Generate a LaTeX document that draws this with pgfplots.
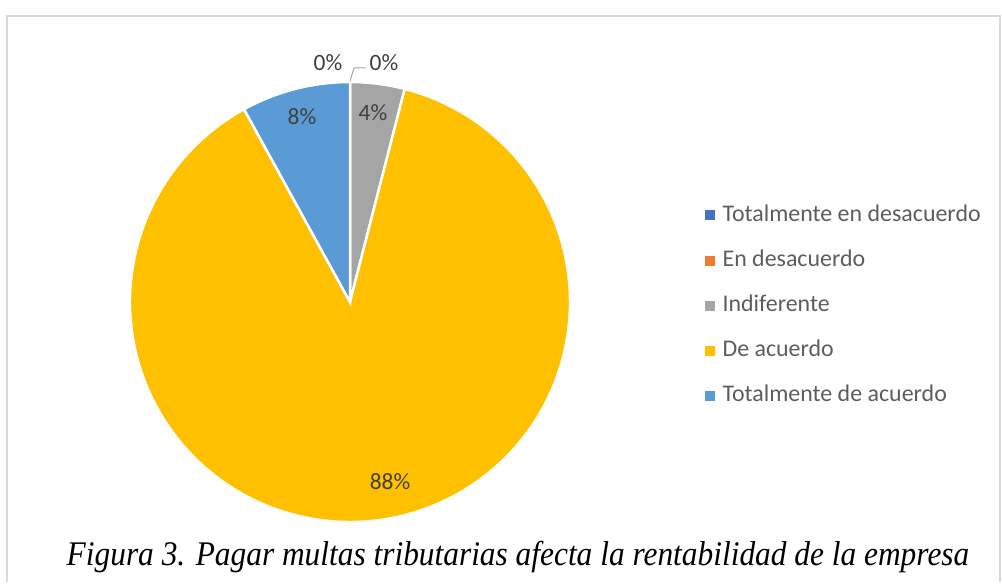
\documentclass[border=0pt]{standalone}
\usepackage{pgfplots}
\pgfplotsset{compat=1.18}
\usepackage{pgfplotstable}
\usepackage{fontspec}
\setmainfont{Carlito}
\newfontfamily\capfont{Liberation Serif}

\definecolor{cTD}{HTML}{4472C4}
\definecolor{cED}{HTML}{ED7D31}
\definecolor{cIN}{HTML}{A5A5A5}
\definecolor{cDA}{HTML}{FFC000}
\definecolor{cTA}{HTML}{5B9BD5}
\definecolor{lbl}{HTML}{404040}
\definecolor{frame}{HTML}{D9D9D9}

% percentages per answer
\pgfplotstableread{
cat pct
TD 0
ED 0
IN 4
DA 88
TA 8
}\pietable

\begin{document}
\begin{tikzpicture}
\pgfplotstablegetelem{0}{pct}\of\pietable \let\pTD\pgfplotsretval
\pgfplotstablegetelem{1}{pct}\of\pietable \let\pED\pgfplotsretval
\pgfplotstablegetelem{2}{pct}\of\pietable \let\pIN\pgfplotsretval
\pgfplotstablegetelem{3}{pct}\of\pietable \let\pDA\pgfplotsretval
\pgfplotstablegetelem{4}{pct}\of\pietable \let\pTA\pgfplotsretval
% slice angles, clockwise from 12 o'clock
\pgfmathsetmacro\aA{90-3.6*(\pTD+\pED)}
\pgfmathsetmacro\aB{\aA-3.6*\pIN}
\pgfmathsetmacro\aC{\aB-3.6*\pDA}
\pgfmathsetmacro\aD{\aC-3.6*\pTA}
\def\R{220bp}
\begin{axis}[
    width=1002bp, height=582bp, scale only axis,
    xmin=0, xmax=1002, ymin=0, ymax=582, y dir=reverse,
    hide axis, clip=false,
    legend style={at={(axis cs:702,202)}, anchor=north west, draw=none, fill=none,
        font=\fontsize{24}{24}\selectfont\color{lbl!85!white},
        row sep=23.2bp,
        nodes={text height=17bp, text depth=5bp, inner sep=0pt, inner xsep=8bp}},
    legend cell align=left,
    legend image code/.code={\fill[#1] (0bp,-4.5bp) rectangle (9bp,4.5bp);},
]
\addlegendimage{cTD}\addlegendentry{Totalmente en desacuerdo}
\addlegendimage{cED}\addlegendentry{En desacuerdo}
\addlegendimage{cIN}\addlegendentry{Indiferente}
\addlegendimage{cDA}\addlegendentry{De acuerdo}
\addlegendimage{cTA}\addlegendentry{Totalmente de acuerdo}

% full picture area
\path (axis cs:0,0) rectangle (axis cs:1002,582);
% frame
\draw[frame, line width=2bp] (axis cs:7,582) -- (axis cs:7,16) -- (axis cs:1000,16) -- (axis cs:1000,582);

% slices
\fill[cIN, draw=white, line width=2.5bp] (axis cs:350,302) -- ([shift={(\aA:\R)}]axis cs:350,302) arc[start angle=\aA, end angle=\aB, radius=\R] -- cycle;
\fill[cDA, draw=white, line width=2.5bp] (axis cs:350,302) -- ([shift={(\aB:\R)}]axis cs:350,302) arc[start angle=\aB, end angle=\aC, radius=\R] -- cycle;
\fill[cTA, draw=white, line width=2.5bp] (axis cs:350,302) -- ([shift={(\aC:\R)}]axis cs:350,302) arc[start angle=\aC, end angle=\aD, radius=\R] -- cycle;

% data labels
\begin{scope}[every node/.style={font=\fontsize{23.5}{23.5}\selectfont, text=lbl}]
\node at (axis cs:328,63) {\pTD\%};
\node at (axis cs:384,63) {\pED\%};
\draw[cIN, line width=1bp] (axis cs:350,81) -- (axis cs:354,68) -- (axis cs:366,68);
\node at (axis cs:373,113) {\pIN\%};
\node at (axis cs:302,117) {\pTA\%};
\node at (axis cs:390,482) {\pDA\%};
\end{scope}

% caption
\node[font=\capfont\itshape\fontsize{31.5}{31.5}\selectfont] at (axis cs:518,557) {\scalebox{1}[1.1]{Figura 3. Pagar multas tributarias afecta la rentabilidad de la empresa}};
\end{axis}
\end{tikzpicture}
\end{document}
